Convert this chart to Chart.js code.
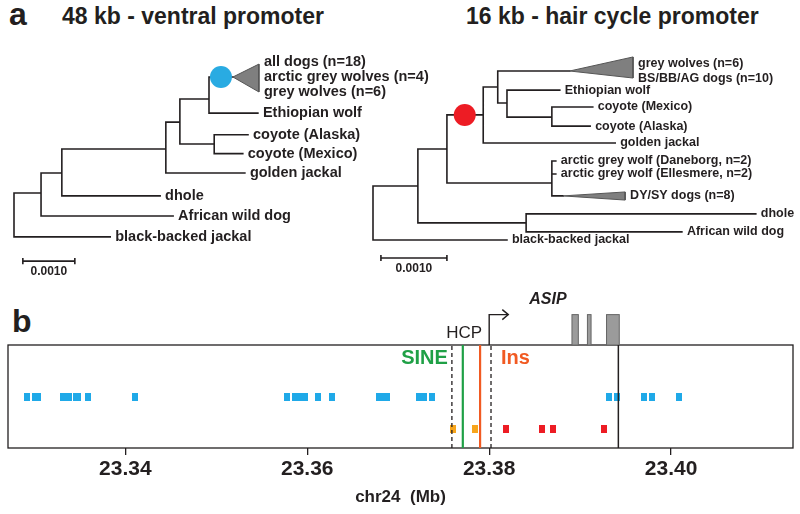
<!DOCTYPE html>
<html>
<head>
<meta charset="utf-8">
<script src="https://cdn.jsdelivr.net/npm/chart.js@4.4.1/dist/chart.umd.min.js"></script>
<style>
  body { margin: 0; width: 800px; height: 514px; background: #fff; position: relative; overflow: hidden;
         font-family: "Liberation Sans", Arial, sans-serif; color: #231f20; }
  .abs { position: absolute; white-space: nowrap; line-height: 1; font-weight: bold; }
  .letter { font-size: 32px; }
  .title { font-size: 23px; }
  canvas { position: absolute; }
</style>
</head>
<body>
<div class="abs letter" style="left:9px;top:-2px">a</div>
<div class="abs title" style="left:62px;top:5px">48 kb - ventral promoter</div>
<div class="abs title" style="left:466px;top:5px">16 kb - hair cycle promoter</div>
<div class="abs letter" style="left:12px;top:305px">b</div>

<canvas id="treeA" width="436" height="250" style="left:4px;top:30px"></canvas>
<canvas id="treeB" width="437" height="250" style="left:363px;top:30px"></canvas>
<canvas id="track" width="800" height="224" style="left:0;top:290px"></canvas>

<script>
const INK = '#231f20';
const FONT = '"Liberation Sans", Arial, sans-serif';

// ---- panel a: trees (branch lengths in units of 0.001 subst./site, rows = tip order) ----
const treeA = [
    { id: 'root', parent: null, x: 0, row: 0 },
    { id: 'n1', parent: 'root', x: 0.52, row: 5.66 },
    { id: 'bbj', parent: 'root', x: 1.85, row: 7.8, label: 'black-backed jackal' },
    { id: 'n2', parent: 'n1', x: 0.92, row: 4.68 },
    { id: 'awd', parent: 'n1', x: 3.06, row: 6.78, label: 'African wild dog' },
    { id: 'n3', parent: 'n2', x: 2.92, row: 3.51 },
    { id: 'dhole', parent: 'n2', x: 2.81, row: 5.8, label: 'dhole' },
    { id: 'n4', parent: 'n3', x: 3.19, row: 2.2 },
    { id: 'gj', parent: 'n3', x: 4.44, row: 4.68, label: 'golden jackal' },
    { id: 'n5', parent: 'n4', x: 3.75, row: 1.07 },
    { id: 'n6', parent: 'n4', x: 3.85, row: 3.27 },
    { id: 'cA', parent: 'n6', x: 4.50, row: 2.82, label: 'coyote (Alaska)' },
    { id: 'cM', parent: 'n6', x: 4.40, row: 3.74, label: 'coyote (Mexico)' },
    { id: 'dogs', parent: 'n5', x: 4.21, row: 0, label: ['all dogs (n=18)', 'arctic grey wolves (n=4)', 'grey wolves (n=6)'] },
    { id: 'ew', parent: 'n5', x: 4.69, row: 1.76, label: 'Ethiopian wolf' },
];
const cladesA = [{ tip: 'dogs', baseX: 4.71, top: -0.63, bottom: 0.73 }];
const markerA = { node: 'dogs', x: 3.98, color: '#29abe2' };
const scaleBarA = { x0: 0.17, row: 8.98, len: 1, label: '0.0010' };

const treeB = [
    { id: 'root', parent: null, x: 0, row: 0 },
    { id: 'g1', parent: 'root', x: 0.68, row: 6.39 },
    { id: 'bbj', parent: 'root', x: 2.03, row: 9.39, label: 'black-backed jackal' },
    { id: 'g2', parent: 'g1', x: 1.12, row: 4.33 },
    { id: 'g3', parent: 'g1', x: 2.32, row: 8.44 },
    { id: 'dhole', parent: 'g3', x: 5.80, row: 7.94, label: 'dhole' },
    { id: 'awd', parent: 'g3', x: 4.68, row: 8.94, label: 'African wild dog' },
    { id: 'g4', parent: 'g2', x: 1.67, row: 2.44 },
    { id: 'arc', parent: 'g2', x: 2.71, row: 6.22 },
    { id: 'dan', parent: 'arc', x: 2.77, row: 5.0, label: 'arctic grey wolf (Daneborg, n=2)' },
    { id: 'ell', parent: 'arc', x: 2.77, row: 5.72, label: 'arctic grey wolf (Ellesmere, n=2)' },
    { id: 'dysy', parent: 'arc', x: 2.88, row: 6.94, label: 'DY/SY dogs (n=8)' },
    { id: 'g5', parent: 'g4', x: 1.89, row: 0.89 },
    { id: 'gj', parent: 'g4', x: 3.67, row: 4.0, label: 'golden jackal' },
    { id: 'gw', parent: 'g5', x: 2.98, row: 0, label: ['grey wolves (n=6)', 'BS/BB/AG dogs (n=10)'] },
    { id: 'g6', parent: 'g5', x: 2.03, row: 1.78 },
    { id: 'ew', parent: 'g6', x: 2.83, row: 1.06, label: 'Ethiopian wolf' },
    { id: 'g7', parent: 'g6', x: 2.71, row: 2.56 },
    { id: 'cM', parent: 'g7', x: 3.33, row: 2.0, label: 'coyote (Mexico)' },
    { id: 'cA', parent: 'g7', x: 3.29, row: 3.06, label: 'coyote (Alaska)' },
];
const cladesB = [
    { tip: 'gw', baseX: 3.94, top: -0.78, bottom: 0.39 },
    { tip: 'dysy', baseX: 3.82, top: 6.72, bottom: 7.17 },
];
const markerB = { node: 'g4', x: 1.39, color: '#ed1c24' };
const scaleBarB = { x0: 0.12, row: 10.39, len: 1, label: '0.0010' };

// ---- panel b: chr24 track (Mb) ----
const snpBlue = [23.3292, 23.3301, 23.3304, 23.3331, 23.3338, 23.3346, 23.3348, 23.3359, 23.3411,
                 23.3578, 23.3587, 23.3591, 23.3597, 23.3612, 23.3627, 23.3679, 23.3684, 23.3688,
                 23.3723, 23.3728, 23.3737, 23.3932, 23.3940, 23.3970, 23.3979, 23.4009];
const snpOrange = [23.3760, 23.3784];
const snpRed = [23.3818, 23.3858, 23.3870, 23.3926];
const hcpBounds = [23.3759, 23.3802];
const sinePos = 23.3771;
const insPos = 23.3790;
const tssPos = 23.3800;
const geneEnd = 23.3942;
const exons = [[23.3891, 23.3898], [23.3908, 23.3912], [23.3929, 23.3943]];
const xTicks = [23.34, 23.36, 23.38, 23.40];
const xRange = [23.3271, 23.4134];
const rowBlue = 0.5;
const rowLower = 0.18;
const geneRow = 1.295;
const tssArrowLen = 0.0021;

function treeChart(id, nodes, clades, marker, bar, look) {
    const byId = Object.fromEntries(nodes.map(n => [n.id, n]));
    const gap = { x: NaN, y: NaN };
    const branches = [];
    for (const n of nodes) {
        if (n.parent) branches.push({ x: byId[n.parent].x, y: n.row }, { x: n.x, y: n.row }, gap);
        const kids = nodes.filter(k => k.parent === n.id).map(k => k.row);
        if (kids.length) branches.push({ x: n.x, y: Math.min(...kids) }, { x: n.x, y: Math.max(...kids) }, gap);
    }
    const barTick = look.barTick;
    const barLine = [
        { x: bar.x0, y: bar.row }, { x: bar.x0 + bar.len, y: bar.row }, gap,
        { x: bar.x0, y: bar.row - barTick }, { x: bar.x0, y: bar.row + barTick }, gap,
        { x: bar.x0 + bar.len, y: bar.row - barTick }, { x: bar.x0 + bar.len, y: bar.row + barTick },
    ];
    const datasets = [
        { data: branches, showLine: true, borderColor: INK, borderWidth: 1.6, pointRadius: 0, borderCapStyle: 'square', order: 3 },
        { data: barLine, showLine: true, borderColor: INK, borderWidth: 1.6, pointRadius: 0, order: 3 },
    ];
    for (const c of clades) {
        const t = byId[c.tip];
        datasets.push({
            data: [{ x: t.x, y: t.row }, { x: c.baseX, y: c.top }, { x: c.baseX, y: c.bottom }, { x: t.x, y: t.row }],
            showLine: true, fill: 'shape', backgroundColor: '#7f7f7f', borderColor: '#555', borderWidth: 1,
            pointRadius: 0, order: 2,
        });
    }
    datasets.push({
        data: [{ x: marker.x, y: byId[marker.node].row }],
        pointRadius: 11, backgroundColor: marker.color, borderWidth: 0, order: 1,
    });

    const labels = {
        id: 'tipLabels',
        afterDatasetsDraw(chart) {
            const { ctx, scales: { x, y } } = chart;
            ctx.save();
            ctx.fillStyle = INK;
            ctx.font = `bold ${look.size}px ${FONT}`;
            ctx.textBaseline = 'middle';
            for (const n of nodes) {
                if (!n.label) continue;
                const clade = clades.find(c => c.tip === n.id);
                const lines = [].concat(n.label);
                const px = x.getPixelForValue(clade ? clade.baseX : n.x) + 5;
                const py = y.getPixelForValue(n.row) - (lines.length - 1) * look.gap / 2;
                lines.forEach((t, i) => ctx.fillText(t, px, py + i * look.gap));
            }
            ctx.font = `bold 12px ${FONT}`;
            ctx.textAlign = 'center';
            ctx.fillText(bar.label, x.getPixelForValue(bar.x0 + bar.len / 2), y.getPixelForValue(bar.row) + 11);
            ctx.restore();
        }
    };

    return new Chart(document.getElementById(id), {
        type: 'scatter',
        data: { datasets },
        options: {
            responsive: false, animation: false, events: [],
            layout: { padding: 0, autoPadding: false },
            plugins: { legend: { display: false }, tooltip: { enabled: false } },
            scales: {
                x: { type: 'linear', display: false, min: look.xMin, max: look.xMax },
                y: { type: 'linear', display: false, reverse: true, min: look.yMin, max: look.yMax },
            },
        },
        plugins: [labels],
    });
}

treeChart('treeA', treeA, cladesA, markerA, scaleBarA,
    { size: 14.5, gap: 15, barTick: 0.15, xMin: -10 / 52, xMax: 426 / 52, yMin: (30 - 77) / 20.5, yMax: (280 - 77) / 20.5 });
treeChart('treeB', treeB, cladesB, markerB, scaleBarB,
    { size: 12.5, gap: 15, barTick: 0.17, xMin: -10 / 66, xMax: 427 / 66, yMin: (30 - 71) / 18, yMax: (280 - 71) / 18 });

// ---- panel b ----
function rectStyle(color, w, h) {
    const c = document.createElement('canvas');
    c.width = w; c.height = h;
    const g = c.getContext('2d');
    g.fillStyle = color;
    g.fillRect(0, 0, w, h);
    return c;
}

const gapPt = { x: NaN, y: NaN };
const vline = (x, y0 = 0, y1 = 1) => [{ x, y: y0 }, { x, y: y1 }];

const trackSets = [
    { data: snpBlue.map(x => ({ x, y: rowBlue })), pointStyle: rectStyle('#1fa9e8', 6, 8), pointRadius: 4, order: 5 },
    { data: snpOrange.map(x => ({ x, y: rowLower })), pointStyle: rectStyle('#f7a51c', 6, 8), pointRadius: 4, order: 5 },
    { data: snpRed.map(x => ({ x, y: rowLower })), pointStyle: rectStyle('#ed1c24', 6, 8), pointRadius: 4, order: 5 },
    { data: [...vline(hcpBounds[0]), gapPt, ...vline(hcpBounds[1])], showLine: true, borderColor: INK,
      borderWidth: 1.3, borderDash: [4, 3], pointRadius: 0, order: 1 },
    { data: vline(sinePos), showLine: true, borderColor: '#1fa046', borderWidth: 2.2, pointRadius: 0, order: 1 },
    { data: vline(insPos), showLine: true, borderColor: '#f15a22', borderWidth: 2.2, pointRadius: 0, order: 1 },
    { data: vline(geneEnd), showLine: true, borderColor: INK, borderWidth: 1.5, pointRadius: 0, order: 1 },
    { data: [{ x: tssPos, y: 1 }, { x: tssPos, y: geneRow }, { x: tssPos + tssArrowLen, y: geneRow }],
      showLine: true, borderColor: INK, borderWidth: 1.4, pointRadius: 0, clip: false, order: 1 },
];

const trackDecor = {
    id: 'trackDecor',
    beforeDatasetsDraw(chart) {
        const { ctx, chartArea: a, scales: { x, y } } = chart;
        ctx.save();
        ctx.strokeStyle = INK;
        ctx.lineWidth = 1.3;
        ctx.strokeRect(a.left, a.top, a.right - a.left, a.bottom - a.top);
        // exon boxes sit on top of the track
        ctx.fillStyle = '#9b9b9b';
        ctx.strokeStyle = '#666';
        ctx.lineWidth = 1;
        for (const [s, e] of exons) {
            const x0 = x.getPixelForValue(s), x1 = x.getPixelForValue(e);
            const y0 = y.getPixelForValue(geneRow), y1 = y.getPixelForValue(1);
            ctx.fillRect(x0, y0, x1 - x0, y1 - y0);
            ctx.strokeRect(x0, y0, x1 - x0, y1 - y0);
        }
        ctx.restore();
    },
    afterDatasetsDraw(chart) {
        const { ctx, scales: { x, y } } = chart;
        ctx.save();
        ctx.fillStyle = INK;
        ctx.strokeStyle = INK;
        ctx.lineWidth = 1.4;
        // arrow head at TSS
        const ax = x.getPixelForValue(tssPos + tssArrowLen), ay = y.getPixelForValue(geneRow);
        ctx.beginPath();
        ctx.moveTo(ax - 6, ay - 5); ctx.lineTo(ax, ay); ctx.lineTo(ax - 6, ay + 5);
        ctx.stroke();
        ctx.textBaseline = 'middle';
        ctx.font = `bold italic 16px ${FONT}`;
        ctx.fillText('ASIP', ax + 21, y.getPixelForValue(1) - 45);
        ctx.font = `17px ${FONT}`;
        ctx.textAlign = 'right';
        ctx.fillText('HCP', x.getPixelForValue(tssPos) - 7, y.getPixelForValue(1) - 12);
        ctx.font = `bold 20px ${FONT}`;
        ctx.fillStyle = '#1fa046';
        ctx.fillText('SINE', x.getPixelForValue(hcpBounds[0]) - 4, y.getPixelForValue(1) + 13);
        ctx.textAlign = 'left';
        ctx.fillStyle = '#f15a22';
        ctx.fillText('Ins', x.getPixelForValue(hcpBounds[1]) + 10, y.getPixelForValue(1) + 13);
        ctx.restore();
    }
};

new Chart(document.getElementById('track'), {
    type: 'scatter',
    data: { datasets: trackSets },
    options: {
        responsive: false, animation: false, events: [],
        layout: { padding: { left: 8, right: 7, top: 55, bottom: 6.4 }, autoPadding: false },
        plugins: { legend: { display: false }, tooltip: { enabled: false } },
        scales: {
            x: {
                type: 'linear', min: xRange[0], max: xRange[1],
                afterBuildTicks: ax => { ax.ticks = xTicks.map(v => ({ value: v })); },
                ticks: { callback: v => v.toFixed(2), color: INK, padding: 2, maxRotation: 0, autoSkip: false,
                         font: { family: FONT, size: 21, weight: 'bold' } },
                grid: { drawOnChartArea: false, drawTicks: true, tickLength: 7, color: INK, lineWidth: 1.3 },
                border: { display: false },
                title: { display: true, text: 'chr24  (Mb)', color: INK, padding: { top: 3, bottom: 0 },
                         font: { family: FONT, size: 17, weight: 'bold' } },
            },
            y: { type: 'linear', display: false, min: 0, max: 1 },
        },
    },
    plugins: [trackDecor],
});
</script>
</body>
</html>
